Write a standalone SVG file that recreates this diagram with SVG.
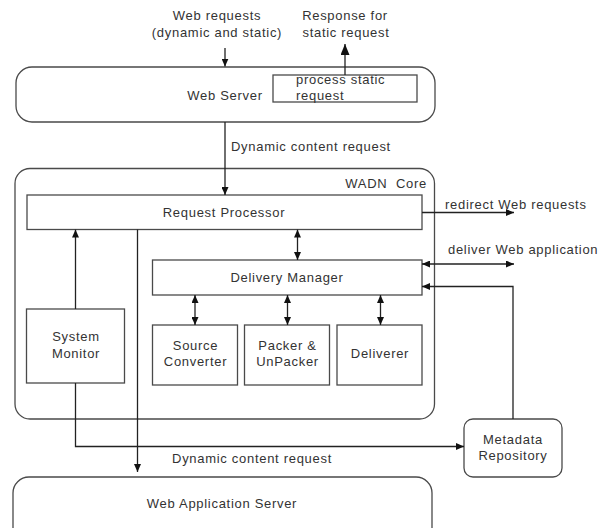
<svg xmlns="http://www.w3.org/2000/svg" width="610" height="528" viewBox="0 0 610 528">
  <style>
    .box { fill: #fff; stroke: #4a4a4a; stroke-width: 1.3; }
    .ln { fill: none; stroke: #222; stroke-width: 1.3; }
    text { font-family: "Liberation Sans", Arial, sans-serif; font-size: 13px; fill: #333; letter-spacing: 0.7px; }
    .c { text-anchor: middle; }
    .e { text-anchor: end; }
  </style>
  <defs>
    <marker id="ah" viewBox="0 0 8 7" markerWidth="8" markerHeight="7" refX="8" refY="3.5" orient="auto-start-reverse" markerUnits="userSpaceOnUse">
      <path d="M0,0 L8,3.5 L0,7 Z" fill="#111"/>
    </marker>
    <marker id="ahBig" viewBox="0 0 11 9" markerWidth="11" markerHeight="9" refX="11" refY="4.5" orient="auto" markerUnits="userSpaceOnUse">
      <path d="M0,0 L11,4.5 L0,9 Z" fill="#111"/>
    </marker>
  </defs>

  <rect x="0" y="0" width="610" height="528" fill="#fff"/>

  <!-- free labels -->
  <g id="labels">
    <text class="c" x="217" y="20">Web requests</text>
    <text class="c" x="217" y="37">(dynamic and static)</text>
    <text class="c" x="345" y="20">Response for</text>
    <text class="c" x="346" y="37">static request</text>
    <text x="231" y="151">Dynamic content request</text>
    <text x="445" y="209">redirect Web requests</text>
    <text x="448" y="254">deliver Web application</text>
    <text class="c" x="252" y="463">Dynamic content request</text>
  </g>

  <g id="web-server">
    <rect class="box" x="16" y="67" width="419" height="55" rx="16"/>
    <text class="c" x="225" y="100">Web Server</text>
  </g>

  <g id="process-static">
    <rect class="box" x="273" y="75" width="144" height="27"/>
    <text x="296" y="84">process static</text>
    <text x="296" y="100">request</text>
  </g>

  <g id="wadn-core">
    <rect class="box" x="15" y="168.5" width="419.5" height="250.5" rx="15"/>
    <text class="e" x="427" y="188" xml:space="preserve" style="white-space:pre">WADN  Core</text>
  </g>

  <g id="request-processor">
    <rect class="box" x="27" y="195" width="395" height="34.5"/>
    <text class="c" x="224" y="217">Request Processor</text>
  </g>

  <g id="delivery-manager">
    <rect class="box" x="152.5" y="260" width="269.5" height="35"/>
    <text class="c" x="287" y="282">Delivery Manager</text>
  </g>

  <g id="system-monitor">
    <rect class="box" x="26.5" y="309" width="98" height="74"/>
    <text class="c" x="76" y="341">System</text>
    <text class="c" x="76" y="358">Monitor</text>
  </g>

  <g id="source-converter">
    <rect class="box" x="152.5" y="325" width="85" height="60"/>
    <text class="c" x="195.5" y="350">Source</text>
    <text class="c" x="195.5" y="366">Converter</text>
  </g>

  <g id="packer">
    <rect class="box" x="244.5" y="325" width="85" height="60"/>
    <text class="c" x="287.5" y="350">Packer &amp;</text>
    <text class="c" x="287.5" y="366">UnPacker</text>
  </g>

  <g id="deliverer">
    <rect class="box" x="337" y="325" width="85" height="60"/>
    <text class="c" x="380" y="358">Deliverer</text>
  </g>

  <g id="metadata-repository">
    <rect class="box" x="464" y="419" width="98" height="58" rx="9"/>
    <text class="c" x="513" y="444">Metadata</text>
    <text class="c" x="513" y="460">Repository</text>
  </g>

  <g id="web-application-server">
    <rect class="box" x="13" y="477" width="419" height="70" rx="16"/>
    <text class="c" x="222" y="508">Web Application Server</text>
  </g>

  <g id="connectors">
    <line class="ln" x1="225" y1="48" x2="225" y2="66.5" marker-end="url(#ah)"/>
    <line class="ln" x1="345" y1="75" x2="345" y2="44" marker-end="url(#ahBig)"/>
    <line class="ln" x1="225" y1="122" x2="225" y2="195" marker-end="url(#ah)"/>
    <line class="ln" x1="422" y1="212.5" x2="514" y2="212.5" marker-end="url(#ah)"/>
    <line class="ln" x1="422" y1="264" x2="514" y2="264" marker-start="url(#ah)" marker-end="url(#ah)"/>
    <path class="ln" d="M513 419 V286.5 H422" marker-end="url(#ah)"/>
    <line class="ln" x1="297.5" y1="229.5" x2="297.5" y2="260" marker-start="url(#ah)" marker-end="url(#ah)"/>
    <line class="ln" x1="195" y1="295" x2="195" y2="325" marker-start="url(#ah)" marker-end="url(#ah)"/>
    <line class="ln" x1="287.5" y1="295" x2="287.5" y2="325" marker-start="url(#ah)" marker-end="url(#ah)"/>
    <line class="ln" x1="380.5" y1="295" x2="380.5" y2="325" marker-start="url(#ah)" marker-end="url(#ah)"/>
    <line class="ln" x1="75.5" y1="309" x2="75.5" y2="229.5" marker-end="url(#ah)"/>
    <path class="ln" d="M75.5 383 V446.5 H464" marker-end="url(#ah)"/>
    <line class="ln" x1="137.5" y1="229.5" x2="137.5" y2="472" marker-end="url(#ah)"/>
  </g>
</svg>
